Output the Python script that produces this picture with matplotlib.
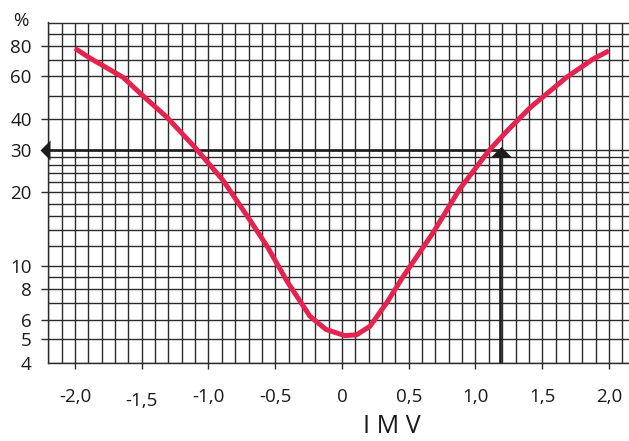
import numpy as np
import matplotlib
matplotlib.use("Agg")
import matplotlib.pyplot as plt
from matplotlib.path import Path
from matplotlib.transforms import offset_copy, ScaledTranslation
from matplotlib.ticker import NullFormatter

plt.rcParams['font.family'] = ['Open Sans', 'DejaVu Sans']

# ---- data ----
pmv = [-2.0, -1.89, -1.64, -1.49, -1.31, -1.10, -0.89, -0.71, -0.56,
       -0.41, -0.24, -0.12, 0.02, 0.11, 0.21, 0.335, 0.46, 0.58, 0.68,
       0.88, 1.10, 1.23, 1.41, 1.53, 1.68, 1.88, 2.0]
ppd = [78.3, 71.5, 59.5, 49.9, 40.7, 30.6, 22.4, 16.0, 12.0,
       8.6, 6.2, 5.47, 5.16, 5.2, 5.64, 7.04, 9.06, 11.3, 13.6,
       20.6, 29.7, 35.5, 44.7, 50.7, 59.4, 70.7, 76.5]

x_ticks = [-2.0, -1.5, -1.0, -0.5, 0.0, 0.5, 1.0, 1.5, 2.0]
x_labels = ["-2,0", "-1,5", "-1,0", "-0,5", "0", "0,5", "1,0", "1,5", "2,0"]
y_ticks = [4, 5, 6, 8, 10, 20, 30, 40, 60, 80]
y_labels = ["4", "5", "6", "8", "10", "20", "30", "40", "60", "80"]
y_grid = [4, 5, 6, 7, 8, 9, 10, 12, 14, 16, 18, 20, 22, 24, 26, 28, 30,
          40, 50, 60, 70, 80, 90, 100]
x_grid = [round(v / 10, 1) for v in range(-22, 22)]

target_ppd = 30
target_pmv = 1.18
XMIN, XMAX = -2.2, 2.15
YMIN, YMAX = 4, 100

# ---- figure ----
W, H = 629, 441
fig = plt.figure(figsize=(W / 100, H / 100), dpi=100)
L = 48.3 / W
B = (H - 362.5) / H
T = (H - 22.5) / H
ax = fig.add_axes([L, B, 1 - L, T - B])
ax.set_yscale('log')
ax.set_xlim(XMIN, XMAX)
ax.set_ylim(YMIN, YMAX)

gcol = '#2b2b2b'
tcol = '#1a1a1a'
ax.set_xticks(x_ticks, x_labels)
ax.set_yticks(y_ticks, y_labels)
ax.set_xticks(x_grid, minor=True)
ax.set_yticks(y_grid, minor=True)
ax.yaxis.set_minor_formatter(NullFormatter())
ax.xaxis.remove_overlapping_locs = False
ax.yaxis.remove_overlapping_locs = False
ax.grid(False, which='major')
ax.grid(True, which='minor', color=gcol, lw=1.0)
ax.tick_params(which='minor', length=0)
ax.tick_params(axis='x', which='major', direction='out', length=4, width=1.0,
               color=gcol, pad=14, labelsize=13.5, labelcolor=tcol)
ax.tick_params(axis='y', which='major', direction='out', length=5, width=1.0,
               color=gcol, pad=7, labelsize=13.5, labelcolor=tcol)
for t in ax.yaxis.get_major_ticks():
    if t.get_loc() in (4, 30):
        t.tick1line.set_visible(False)
for lbl in ax.get_xticklabels():
    if lbl.get_text() == "-1,5":
        lbl.set_transform(lbl.get_transform() + ScaledTranslation(0, -5 / 100, fig.dpi_scale_trans))

for s in ['left', 'bottom', 'top']:
    ax.spines[s].set_color(gcol)
    ax.spines[s].set_linewidth(1.0)
ax.spines['right'].set_visible(False)
ax.set_axisbelow(True)

# ---- reading lines & arrows ----
acol = '#1c1c1c'
ax.plot([XMIN, target_pmv], [target_ppd, target_ppd], color=acol, lw=1.9,
        solid_capstyle='butt', zorder=3)
ax.plot([target_pmv, target_pmv], [YMIN, target_ppd], color=acol, lw=1.9,
        solid_capstyle='butt', zorder=3)
left_tri = Path([(-1, 0), (1, 2), (1, -2), (-1, 0)],
                [Path.MOVETO, Path.LINETO, Path.LINETO, Path.CLOSEPOLY])
up_tri = Path([(0, 1), (-2, -1), (2, -1), (0, 1)],
              [Path.MOVETO, Path.LINETO, Path.LINETO, Path.CLOSEPOLY])
tr_left = offset_copy(ax.transData, fig=fig, x=-3.3, y=0, units='dots')
ax.plot([XMIN], [target_ppd], marker=left_tri, ms=14.4, color=acol, mew=0,
        ls='none', transform=tr_left, clip_on=False, zorder=4)
tr_up = offset_copy(ax.transData, fig=fig, x=1.0, y=-2.5, units='dots')
ax.plot([target_pmv], [target_ppd], marker=up_tri, ms=15.8, color=acol, mew=0,
        ls='none', transform=tr_up, clip_on=False, zorder=4)

# ---- curve ----
ax.plot(pmv, ppd, color='#e4234f', lw=3.6, solid_joinstyle='round',
        solid_capstyle='butt', zorder=5)

# ---- labels ----
fig.text(20.5 / W, 1 - 21.5 / H, "%", ha='center', va='center', fontsize=13.5,
         color=tcol)
fig.text(392 / W, 8.0 / H, "I M V", ha='center', va='baseline',
         fontsize=18, color=tcol)

fig.savefig("out.png", dpi=100)
